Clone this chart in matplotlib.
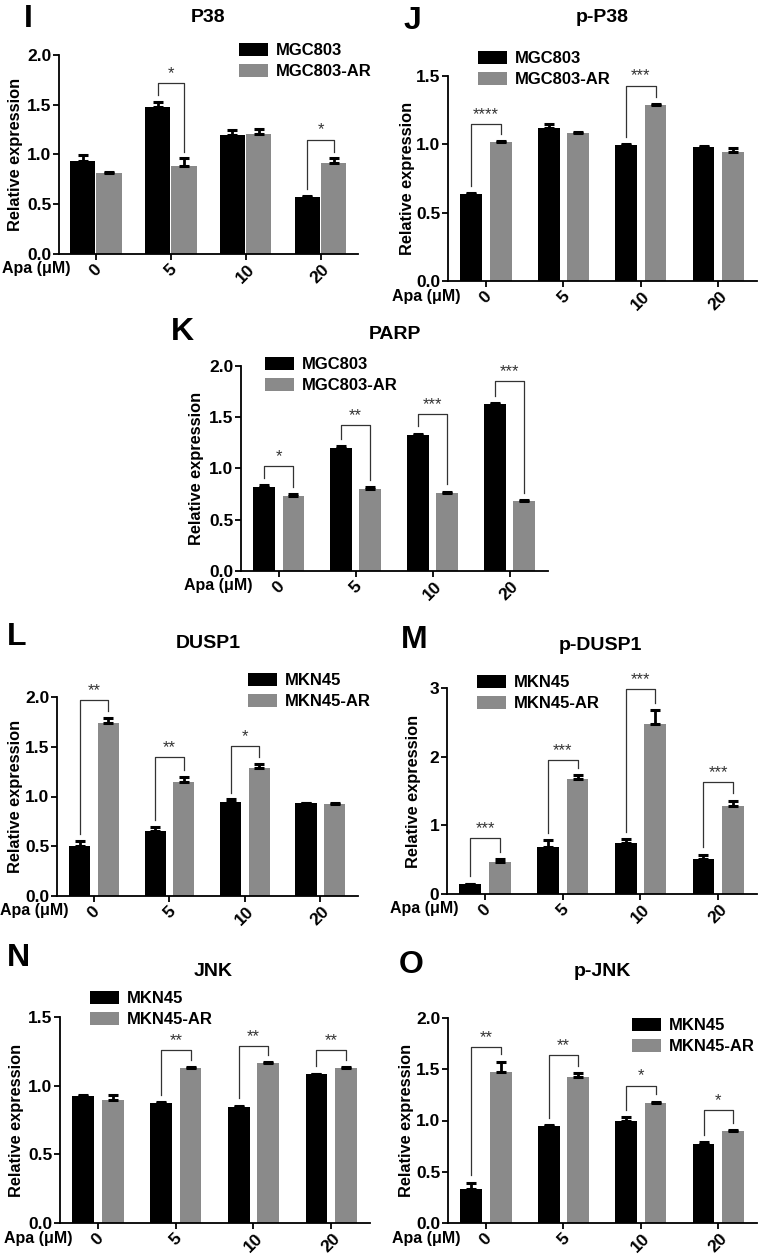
import matplotlib
matplotlib.use("Agg")
import matplotlib.pyplot as plt
import numpy as np

plt.rcParams['font.family'] = ['Liberation Sans', 'DejaVu Sans']
plt.rcParams['font.weight'] = 'bold'

# ---------------- data ----------------
doses = ['0', '5', '10', '20']

# Panel I  P38 (MGC803)
I_ctrl = [0.93, 1.48, 1.20, 0.57]
I_ctrl_err = [0.06, 0.05, 0.05, 0.01]
I_ar = [0.81, 0.88, 1.21, 0.91]
I_ar_err = [0.01, 0.08, 0.05, 0.05]
I_sig = ['', '*', '', '*']
I_brk = [None, 1.72, None, 1.15]

# Panel J  p-P38 (MGC803)
J_ctrl = [0.64, 1.12, 0.995, 0.98]
J_ctrl_err = [0.005, 0.03, 0.005, 0.005]
J_ar = [1.02, 1.085, 1.29, 0.945]
J_ar_err = [0.005, 0.005, 0.003, 0.03]
J_sig = ['****', '', '***', '']
J_brk = [1.15, None, 1.43, None]

# Panel K  PARP (MGC803)
K_ctrl = [0.82, 1.20, 1.33, 1.63]
K_ctrl_err = [0.02, 0.02, 0.01, 0.01]
K_ar = [0.735, 0.80, 0.765, 0.68]
K_ar_err = [0.015, 0.015, 0.01, 0.01]
K_sig = ['*', '**', '***', '***']
K_brk = [1.02, 1.42, 1.53, 1.85]

# Panel L  DUSP1 (MKN45)
L_ctrl = [0.50, 0.655, 0.94, 0.93]
L_ctrl_err = [0.05, 0.04, 0.03, 0.005]
L_ar = [1.74, 1.15, 1.29, 0.925]
L_ar_err = [0.05, 0.05, 0.04, 0.01]
L_sig = ['**', '**', '*', '']
L_brk = [1.97, 1.40, 1.51, None]

# Panel M  p-DUSP1 (MKN45)
M_ctrl = [0.14, 0.68, 0.74, 0.505]
M_ctrl_err = [0.01, 0.10, 0.06, 0.07]
M_ar = [0.47, 1.67, 2.47, 1.28]
M_ar_err = [0.04, 0.06, 0.21, 0.08]
M_sig = ['***', '***', '***', '***']
M_brk = [0.81, 1.95, 2.99, 1.63]

# Panel N  JNK (MKN45)
N_ctrl = [0.925, 0.875, 0.845, 1.085]
N_ctrl_err = [0.01, 0.005, 0.01, 0.003]
N_ar = [0.895, 1.13, 1.165, 1.13]
N_ar_err = [0.035, 0.007, 0.007, 0.007]
N_sig = ['', '**', '**', '**']
N_brk = [None, 1.26, 1.29, 1.26]

# Panel O  p-JNK (MKN45)
O_ctrl = [0.33, 0.95, 1.00, 0.775]
O_ctrl_err = [0.065, 0.003, 0.03, 0.016]
O_ar = [1.47, 1.425, 1.175, 0.893]
O_ar_err = [0.105, 0.04, 0.01, 0.01]
O_sig = ['**', '**', '*', '*']
O_brk = [1.72, 1.64, 1.34, 1.10]

# ---------------- figure ----------------
W, H = 765, 1260
fig = plt.figure(figsize=(W / 100, H / 100), dpi=100)

BLACK = '#000000'
GRAY = '#8a8a8a'


def fx(x):
    return x / W


def fy(y):
    return 1 - y / H


def panel(box, letter, letter_xy, title, title_xy, ctrl, ctrl_err, ar, ar_err,
          sig, brk, ymax, ystep, labels, leg_xy, ylab_off, width=0.28, off=0.19,
          int_ticks=False):
    l, t, r, b = box
    ax = fig.add_axes([fx(l), fy(b), (r - l) / W, (b - t) / H])
    x = np.arange(len(doses))
    z = np.zeros(len(doses))
    b1 = ax.bar(x - off, ctrl, width, color=BLACK, zorder=2, label=labels[0])
    b2 = ax.bar(x + off, ar, width, color=GRAY, zorder=2, label=labels[1])
    ax.errorbar(x - off, ctrl, yerr=[z, ctrl_err], fmt='none', ecolor=BLACK,
                elinewidth=2.0, capsize=3.3, capthick=2.2, zorder=3)
    ax.errorbar(x + off, ar, yerr=[z, ar_err], fmt='none', ecolor=BLACK,
                elinewidth=2.0, capsize=3.3, capthick=2.2, zorder=3)
    gap = 0.035 * ymax
    for i in range(len(doses)):
        if brk[i] is None:
            continue
        h = brk[i]
        y1 = ctrl[i] + ctrl_err[i] + gap
        y2 = ar[i] + ar_err[i] + gap
        ax.plot([x[i] - off, x[i] - off, x[i] + off, x[i] + off], [y1, h, h, y2],
                color='#333333', lw=0.9, zorder=4)
        ax.text(x[i], h + 0.01 * ymax, sig[i], ha='center', va='bottom',
                fontsize=12, fontweight='normal', color='#333333')
    ax.set_xlim(-0.49, 3.5)
    ax.set_ylim(0, ymax)
    yt = np.arange(0, ymax + 1e-9, ystep)
    ax.set_yticks(yt)
    if int_ticks:
        ax.set_yticklabels([f'{v:.0f}' for v in yt])
    else:
        ax.set_yticklabels([f'{v:.1f}' for v in yt])
    ax.set_xticks(x)
    ax.set_xticklabels(doses, rotation=45, ha='center', va='top')
    for s in ['top', 'right']:
        ax.spines[s].set_visible(False)
    for s in ['left', 'bottom']:
        ax.spines[s].set_linewidth(1.3)
    ax.tick_params(axis='both', width=1.3, length=4, labelsize=12.5, pad=1.5)
    for lab in ax.get_xticklabels() + ax.get_yticklabels():
        lab.set_fontweight('bold')
    ax.set_ylabel('Relative expression', fontsize=11.8, fontweight='bold')
    ax.yaxis.set_label_coords(-ylab_off / (r - l), 0.5)
    ax.annotate('Apa (μM)', xy=(0, 0), xycoords='axes fraction',
                xytext=(12, -15), textcoords='offset pixels', ha='right',
                va='center', fontsize=11.5, fontweight='bold')
    ax.legend(handles=[b1, b2], loc='upper left',
              bbox_to_anchor=(fx(leg_xy[0]), fy(leg_xy[1])),
              bbox_transform=fig.transFigure, frameon=False, borderpad=0,
              borderaxespad=0, handlelength=1.75, handleheight=0.8,
              handletextpad=0.45, labelspacing=0.35,
              prop={'size': 12, 'weight': 'bold'})
    fig.text(fx(letter_xy[0]), fy(letter_xy[1]), letter, fontsize=23,
             fontweight='bold', ha='left', va='center')
    fig.text(fx(title_xy[0]), fy(title_xy[1]), title, fontsize=14,
             fontweight='bold', ha='center', va='center')
    return ax


mgc = ['MGC803', 'MGC803-AR']
mkn = ['MKN45', 'MKN45-AR']

panel((59, 55, 358, 254), 'I', (24, 19), 'P38', (208, 17), I_ctrl, I_ctrl_err,
      I_ar, I_ar_err, I_sig, I_brk, 2.0, 0.5, mgc, (239, 43), 36,
      width=0.34, off=0.175)
panel((448, 76, 757, 281), 'J', (404, 21), 'p-P38', (602, 17), J_ctrl, J_ctrl_err,
      J_ar, J_ar_err, J_sig, J_brk, 1.5, 0.5, mgc, (478, 51), 33)
panel((241, 366, 548, 571), 'K', (171, 332), 'PARP', (395, 335), K_ctrl, K_ctrl_err,
      K_ar, K_ar_err, K_sig, K_brk, 2.0, 0.5, mgc, (265, 357), 37)
panel((57, 697, 358, 896), 'L', (7, 637), 'DUSP1', (208, 643), L_ctrl, L_ctrl_err,
      L_ar, L_ar_err, L_sig, L_brk, 2.0, 0.5, mkn, (248, 673), 34)
panel((447, 688, 757, 894), 'M', (401, 640), 'p-DUSP1', (600, 645), M_ctrl, M_ctrl_err,
      M_ar, M_ar_err, M_sig, M_brk, 3.0, 1.0, mkn, (477, 675), 26, int_ticks=True)
panel((60, 1017, 370, 1223), 'N', (7, 958), 'JNK', (213, 972), N_ctrl, N_ctrl_err,
      N_ar, N_ar_err, N_sig, N_brk, 1.5, 0.5, mkn, (90, 991), 36)
panel((448, 1018, 757, 1223), 'O', (399, 965), 'p-JNK', (602, 972), O_ctrl, O_ctrl_err,
      O_ar, O_ar_err, O_sig, O_brk, 2.0, 0.5, mkn, (632, 1018), 34)

fig.savefig('out.png', dpi=100)
